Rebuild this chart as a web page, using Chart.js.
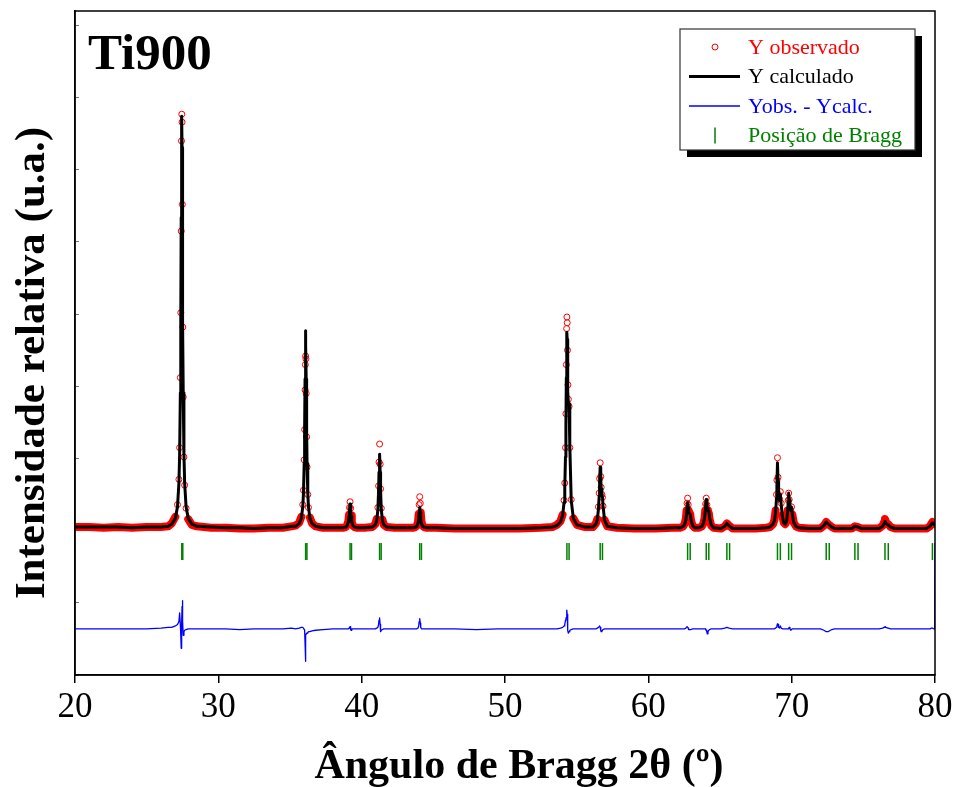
<!DOCTYPE html>
<html>
<head>
<meta charset="utf-8">
<title>Ti900 - refinamento de Rietveld</title>
<script src="https://cdn.jsdelivr.net/npm/chart.js@4.4.0/dist/chart.umd.min.js"></script>
<style>
  html, body { margin: 0; padding: 0; background: #fff; }
  canvas { display: block; }
</style>
</head>
<body>
<canvas id="rietveldChart" width="958" height="787"></canvas>
<script>
// 2θ (graus) - uma linha por região do difratograma
const twoTheta = [
  20, 21, 22, 23, 24, 25, 26, 26.5,
  26.75, 27.0, 27.15, 27.25, 27.30, 27.35, 27.38, 27.41, 27.43, 27.45, 27.47, 27.49, 27.52, 27.55, 27.60, 27.65, 27.75, 27.90, 28.15,
  28.5, 29.5, 30.5, 31.5, 32.5, 33.5, 34.5, 35.1,
  35.39, 35.64, 35.79, 35.89, 35.94, 35.99, 36.02, 36.05, 36.07, 36.09, 36.11, 36.13, 36.16, 36.19, 36.24, 36.29, 36.39, 36.54, 36.79,
  37.3, 38.0, 38.5,
  38.69, 38.89, 38.99, 39.07, 39.12, 39.15, 39.19, 39.23, 39.26, 39.31, 39.39, 39.49, 39.69,
  40.2,
  40.75, 40.95, 41.05, 41.13, 41.18, 41.21, 41.25, 41.29, 41.32, 41.37, 41.45, 41.55, 41.75,
  42.3, 43.0,
  43.55, 43.75, 43.85, 43.93, 43.98, 44.01, 44.05, 44.09, 44.12, 44.17, 44.25, 44.35, 44.55,
  45.2, 46.5, 48.0, 49.5, 51.0, 52.5, 53.3,
  53.62, 53.87, 54.02, 54.12, 54.17, 54.22, 54.25, 54.28, 54.30, 54.32, 54.34, 54.36, 54.39, 54.42, 54.47, 54.52, 54.62, 54.77, 55.02,
  55.6,
  56.14, 56.34, 56.44, 56.52, 56.57, 56.60, 56.64, 56.68, 56.71, 56.76, 56.80, 56.84, 56.94, 57.14,
  57.8, 59.0, 60.5, 61.7,
  62.24, 62.44, 62.54, 62.62, 62.67, 62.70, 62.74, 62.78, 62.81, 62.86, 62.92, 62.98, 63.09, 63.24,
  63.54, 63.74, 63.84, 63.92, 63.97, 64.00, 64.04, 64.08, 64.11, 64.16, 64.22, 64.28, 64.39, 64.54,
  65.08, 65.33, 65.48, 65.63, 65.88,
  66.5, 67.5, 68.2,
  68.5, 68.7, 68.8, 68.88, 68.94, 68.97, 69.01, 69.05, 69.09, 69.15, 69.21, 69.27, 69.35, 69.45, 69.55, 69.65, 69.72, 69.76, 69.79, 69.83, 69.88, 69.94, 69.99, 70.05, 70.15, 70.3, 70.5,
  71.2,
  72.0, 72.25, 72.41, 72.55, 72.62, 72.8, 73.0,
  73.6,
  74.2, 74.41, 74.63, 74.85,
  75.5,
  76.1, 76.35, 76.45, 76.51, 76.58, 76.7, 76.74, 76.9, 77.2,
  78.0, 78.8,
  79.4, 79.65, 79.75, 79.82, 79.9, 79.98, 80.0
];

const yObs = [
  2.05, 2.05, 2.04, 2.05, 2.04, 2.05, 2.05, 2.06,
  2.10, 2.19, 2.36, 2.71, 3.15, 4.12, 5.02, 6.15, 7.40, 7.77, 7.66, 6.52, 4.82, 3.85, 3.02, 2.63, 2.31, 2.16, 2.08,
  2.06, 2.04, 2.04, 2.03, 2.03, 2.04, 2.04, 2.06,
  2.07, 2.11, 2.19, 2.36, 2.56, 2.98, 3.40, 3.95, 4.30, 4.42, 4.38, 3.90, 3.30, 2.88, 2.50, 2.32, 2.18, 2.10, 2.06,
  2.04, 2.04, 2.04,
  2.04, 2.05, 2.08, 2.13, 2.22, 2.32, 2.40, 2.31, 2.21, 2.12, 2.07, 2.05, 2.04,
  2.04,
  2.05, 2.09, 2.16, 2.32, 2.62, 2.95, 3.20, 2.92, 2.58, 2.31, 2.15, 2.08, 2.05,
  2.04, 2.04,
  2.04, 2.05, 2.07, 2.12, 2.23, 2.36, 2.47, 2.38, 2.25, 2.13, 2.07, 2.05, 2.04,
  2.04, 2.03, 2.03, 2.03, 2.03, 2.04, 2.05,
  2.08, 2.13, 2.22, 2.42, 2.66, 3.15, 3.62, 4.30, 4.80, 4.96, 4.88, 4.50, 4.02, 3.82, 3.72, 3.15, 2.43, 2.17, 2.08,
  2.05,
  2.05, 2.10, 2.16, 2.33, 2.52, 2.72, 2.94, 2.75, 2.60, 2.50, 2.46, 2.34, 2.15, 2.06,
  2.04, 2.03, 2.03, 2.04,
  2.04, 2.06, 2.10, 2.17, 2.28, 2.38, 2.45, 2.36, 2.28, 2.25, 2.23, 2.14, 2.07, 2.04,
  2.04, 2.06, 2.10, 2.17, 2.28, 2.37, 2.45, 2.36, 2.28, 2.26, 2.24, 2.15, 2.07, 2.04,
  2.03, 2.06, 2.10, 2.07, 2.03,
  2.03, 2.03, 2.04,
  2.05, 2.09, 2.15, 2.28, 2.50, 2.70, 3.01, 2.74, 2.50, 2.44, 2.54, 2.38, 2.21, 2.11, 2.09, 2.13, 2.28, 2.42, 2.52, 2.43, 2.31, 2.28, 2.33, 2.22, 2.11, 2.06, 2.04,
  2.03,
  2.03, 2.07, 2.12, 2.09, 2.08, 2.05, 2.03,
  2.03,
  2.03, 2.06, 2.05, 2.03,
  2.03,
  2.03, 2.07, 2.12, 2.16, 2.12, 2.09, 2.09, 2.05, 2.03,
  2.03, 2.03,
  2.03, 2.06, 2.10, 2.12, 2.10, 2.09, 2.09
];

const yCalc = [
  2.05, 2.05, 2.05, 2.05, 2.04, 2.05, 2.05, 2.06,
  2.09, 2.17, 2.33, 2.66, 3.06, 3.91, 4.89, 6.34, 7.31, 7.74, 7.31, 6.34, 4.89, 3.91, 3.06, 2.66, 2.33, 2.17, 2.09,
  2.06, 2.05, 2.04, 2.04, 2.03, 2.04, 2.04, 2.06,
  2.06, 2.10, 2.17, 2.33, 2.52, 2.93, 3.40, 4.10, 4.56, 4.77, 4.56, 4.10, 3.40, 2.93, 2.52, 2.33, 2.17, 2.10, 2.06,
  2.04, 2.04, 2.04,
  2.04, 2.05, 2.07, 2.12, 2.20, 2.29, 2.37, 2.29, 2.20, 2.12, 2.07, 2.05, 2.04,
  2.04,
  2.05, 2.08, 2.14, 2.29, 2.55, 2.81, 3.06, 2.81, 2.55, 2.29, 2.14, 2.08, 2.05,
  2.04, 2.04,
  2.04, 2.05, 2.06, 2.10, 2.17, 2.25, 2.32, 2.25, 2.17, 2.10, 2.06, 2.05, 2.04,
  2.04, 2.03, 2.03, 2.03, 2.03, 2.04, 2.05,
  2.07, 2.12, 2.21, 2.39, 2.60, 3.02, 3.48, 4.12, 4.54, 4.75, 4.65, 4.35, 3.93, 3.78, 3.76, 3.19, 2.42, 2.17, 2.08,
  2.05,
  2.05, 2.09, 2.15, 2.30, 2.48, 2.67, 2.88, 2.72, 2.58, 2.50, 2.47, 2.35, 2.15, 2.06,
  2.04, 2.03, 2.03, 2.04,
  2.04, 2.06, 2.09, 2.15, 2.24, 2.32, 2.39, 2.32, 2.26, 2.24, 2.23, 2.15, 2.07, 2.04,
  2.04, 2.06, 2.10, 2.17, 2.27, 2.36, 2.43, 2.37, 2.31, 2.28, 2.27, 2.17, 2.08, 2.04,
  2.03, 2.06, 2.10, 2.07, 2.03,
  2.03, 2.03, 2.04,
  2.05, 2.09, 2.14, 2.25, 2.45, 2.62, 2.94, 2.68, 2.48, 2.42, 2.50, 2.36, 2.20, 2.11, 2.09, 2.13, 2.27, 2.40, 2.52, 2.42, 2.30, 2.28, 2.32, 2.22, 2.11, 2.06, 2.04,
  2.03,
  2.03, 2.07, 2.12, 2.09, 2.08, 2.05, 2.03,
  2.03,
  2.03, 2.06, 2.05, 2.03,
  2.03,
  2.03, 2.06, 2.10, 2.13, 2.10, 2.08, 2.08, 2.05, 2.03,
  2.03, 2.03,
  2.03, 2.06, 2.09, 2.11, 2.09, 2.08, 2.08
];

// curva diferença (já deslocada para baixo)
const yDiff = [
  0.64, 0.64, 0.64, 0.64, 0.64, 0.64, 0.65, 0.66,
  0.66, 0.68, 0.70, 0.74, 0.86, 0.70, 0.55, 0.37, 0.45, 0.70, 0.95, 1.03, 0.75, 0.55, 0.60, 0.62, 0.63, 0.64, 0.64,
  0.64, 0.64, 0.64, 0.63, 0.64, 0.64, 0.64, 0.65,
  0.64, 0.65, 0.66, 0.66, 0.65, 0.63, 0.62, 0.45, 0.19, 0.35, 0.55, 0.57, 0.58, 0.58, 0.59, 0.60, 0.60, 0.61, 0.62,
  0.63, 0.64, 0.64,
  0.64, 0.64, 0.64, 0.64, 0.65, 0.66, 0.67, 0.63, 0.62, 0.64, 0.64, 0.64, 0.64,
  0.64,
  0.64, 0.64, 0.65, 0.66, 0.70, 0.76, 0.79, 0.70, 0.60, 0.62, 0.63, 0.64, 0.64,
  0.64, 0.64,
  0.64, 0.64, 0.64, 0.65, 0.68, 0.74, 0.78, 0.72, 0.66, 0.64, 0.64, 0.64, 0.64,
  0.64, 0.64, 0.63, 0.64, 0.64, 0.64, 0.64,
  0.64, 0.65, 0.66, 0.68, 0.70, 0.76, 0.78, 0.80, 0.86, 0.90, 0.84, 0.72, 0.62, 0.58, 0.60, 0.62, 0.63, 0.64, 0.64,
  0.64,
  0.64, 0.64, 0.65, 0.66, 0.67, 0.68, 0.66, 0.62, 0.60, 0.61, 0.62, 0.63, 0.64, 0.64,
  0.64, 0.64, 0.64, 0.64,
  0.64, 0.64, 0.64, 0.65, 0.66, 0.67, 0.67, 0.65, 0.63, 0.63, 0.63, 0.63, 0.64, 0.64,
  0.64, 0.64, 0.64, 0.64, 0.64, 0.63, 0.62, 0.60, 0.57, 0.60, 0.62, 0.63, 0.64, 0.64,
  0.64, 0.65, 0.66, 0.65, 0.64,
  0.64, 0.64, 0.64,
  0.64, 0.64, 0.64, 0.65, 0.66, 0.68, 0.71, 0.70, 0.66, 0.65, 0.68, 0.65, 0.64, 0.64, 0.64, 0.64, 0.64, 0.64, 0.65, 0.66, 0.64, 0.62, 0.63, 0.64, 0.64, 0.64, 0.64,
  0.64,
  0.64, 0.62, 0.60, 0.60, 0.61, 0.63, 0.64,
  0.64,
  0.64, 0.64, 0.64, 0.64,
  0.64,
  0.64, 0.65, 0.66, 0.67, 0.66, 0.65, 0.65, 0.64, 0.64,
  0.64, 0.64,
  0.64, 0.64, 0.65, 0.65, 0.64, 0.64, 1.83
];

// posições de Bragg (Kα1 / Kα2) do rutilo
const braggPos = [
  27.45, 27.52, 36.09, 36.18, 39.19, 39.29, 41.25, 41.36, 44.05, 44.17,
  54.32, 54.47, 56.64, 56.80, 62.74, 62.92, 64.04, 64.22, 65.48, 65.67,
  69.01, 69.21, 69.79, 69.99, 72.41, 72.62, 74.41, 74.63, 76.51, 76.74, 79.82
];
const braggLevel = 1.71;

const xTicks = [20, 30, 40, 50, 60, 70, 80];
const yTicks = [0, 1, 2, 3, 4, 5, 6, 7, 8, 9];
const seriesLabels = ["Y observado", "Y calculado", "Yobs. - Ycalc.", "Posição de Bragg"];
const sampleName = "Ti900";
const xTitle = "Ângulo de Bragg 2θ (º)";
const yTitle = "Intensidade relativa (u.a.)";

const SERIF = "'Liberation Serif', 'Times New Roman', serif";
const RED = "#ff0000", BLUE = "#0000ff", GREEN = "#008000";

const toPoints = (ys) => twoTheta.map((x, i) => ({ x: x, y: ys[i] }));

// moldura, títulos e legenda
const decorations = {
  id: "decorations",
  afterDraw(chart) {
    const ctx = chart.ctx;
    const a = chart.chartArea;
    ctx.save();

    ctx.strokeStyle = "#000";
    ctx.lineWidth = 1.5;
    ctx.strokeRect(a.left, a.top, a.right - a.left, a.bottom - a.top);

    ctx.fillStyle = "#000";
    ctx.font = "bold 51px " + SERIF;
    ctx.textAlign = "left";
    ctx.textBaseline = "alphabetic";
    ctx.fillText(sampleName, a.left + 13, a.top + 58);

    ctx.font = "bold 42px " + SERIF;
    ctx.textAlign = "center";
    ctx.fillText(xTitle, 519, 778);

    ctx.save();
    ctx.font = "bold 43px " + SERIF;
    ctx.translate(44, 363);
    ctx.rotate(-Math.PI / 2);
    ctx.fillText(yTitle, 0, 0);
    ctx.restore();

    // legenda
    const bx = a.right - 255, by = a.top + 18, bw = 235, bh = 121;
    ctx.fillStyle = "#000";
    ctx.fillRect(bx + 7, by + 7, bw, bh);
    ctx.fillStyle = "#fff";
    ctx.fillRect(bx, by, bw, bh);
    ctx.strokeStyle = "#333";
    ctx.lineWidth = 1.2;
    ctx.strokeRect(bx, by, bw, bh);

    ctx.font = "22px " + SERIF;
    ctx.textAlign = "left";
    ctx.textBaseline = "middle";
    const colors = [RED, "#000", BLUE, GREEN];
    chart.data.datasets.forEach((ds, i) => {
      const ry = by + 18 + i * 29.5;
      const sx = bx + 35;
      ctx.strokeStyle = colors[i];
      if (i === 0) {
        ctx.lineWidth = 1;
        ctx.beginPath();
        ctx.arc(sx, ry, 3, 0, 2 * Math.PI);
        ctx.stroke();
      } else if (i === 3) {
        ctx.lineWidth = 1.5;
        ctx.beginPath();
        ctx.moveTo(sx, ry - 8);
        ctx.lineTo(sx, ry + 8);
        ctx.stroke();
      } else {
        ctx.lineWidth = ds.borderWidth;
        ctx.beginPath();
        ctx.moveTo(bx + 9, ry);
        ctx.lineTo(bx + 60, ry);
        ctx.stroke();
      }
      ctx.fillStyle = colors[i];
      ctx.fillText(ds.label, bx + 68, ry + 1);
    });
    ctx.restore();
  }
};

const ctx = document.getElementById("rietveldChart").getContext("2d");
const rietveldChart = new Chart(ctx, {
  type: "scatter",
  data: {
    datasets: [
      {
        label: seriesLabels[0],
        data: toPoints(yObs),
        order: 1,
        showLine: true,
        borderColor: RED,
        borderWidth: 8,
        borderJoinStyle: "round",
        borderCapStyle: "round",
        segment: {
          borderColor: (c) => (Math.max(c.p0.parsed.y, c.p1.parsed.y) < 2.3 ? RED : "rgba(0,0,0,0)")
        },
        pointStyle: "circle",
        pointRadius: 3,
        pointBorderWidth: 1,
        pointBorderColor: RED,
        pointBackgroundColor: "rgba(0,0,0,0)"
      },
      {
        label: seriesLabels[1],
        data: toPoints(yCalc),
        order: 0,
        showLine: true,
        borderColor: "#000",
        borderWidth: 3,
        borderJoinStyle: "round",
        pointRadius: 0
      },
      {
        label: seriesLabels[2],
        data: toPoints(yDiff),
        order: 2,
        showLine: true,
        borderColor: BLUE,
        borderWidth: 1.3,
        borderJoinStyle: "round",
        pointRadius: 0
      },
      {
        label: seriesLabels[3],
        data: braggPos.map((x) => ({ x: x, y: braggLevel })),
        order: 3,
        showLine: false,
        pointStyle: "line",
        rotation: 90,
        pointRadius: 8.5,
        pointBorderWidth: 1.5,
        pointBorderColor: GREEN,
        borderColor: GREEN
      }
    ]
  },
  options: {
    responsive: false,
    animation: false,
    devicePixelRatio: 1,
    layout: { padding: { top: 11, right: 23, bottom: 0, left: 0 } },
    plugins: {
      legend: { display: false },
      tooltip: { enabled: false }
    },
    scales: {
      x: {
        type: "linear",
        position: "bottom",
        min: 20,
        max: 80,
        afterBuildTicks: (s) => { s.ticks = xTicks.map((v) => ({ value: v })); },
        afterFit: (s) => { s.height = 112; },
        ticks: {
          color: "#000",
          font: { family: SERIF, size: 35 },
          padding: 4,
          maxRotation: 0
        },
        grid: { drawOnChartArea: false, tickLength: 8, color: "#000", lineWidth: 1.5 },
        border: { color: "#000", width: 1.5 }
      },
      y: {
        type: "linear",
        min: 0,
        max: 9.2,
        afterBuildTicks: (s) => { s.ticks = yTicks.map((v) => ({ value: v })); },
        afterFit: (s) => { s.width = 75; },
        ticks: { display: false },
        grid: { drawOnChartArea: false, tickLength: -4, color: "#777", lineWidth: 1 },
        border: { color: "#000", width: 1.5 }
      }
    }
  },
  plugins: [decorations]
});
</script>
</body>
</html>
